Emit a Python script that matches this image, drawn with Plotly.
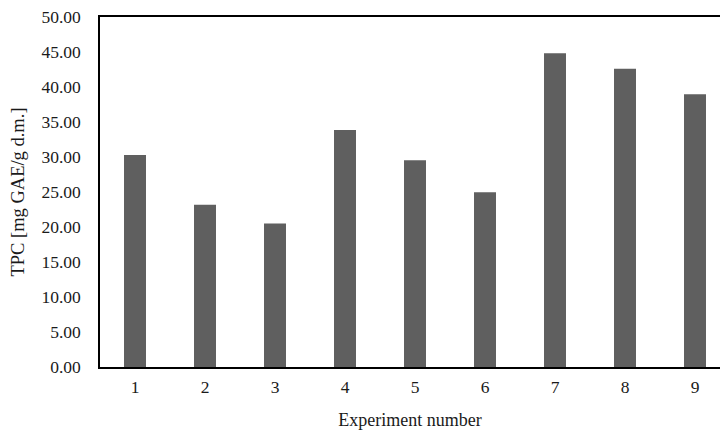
import plotly.graph_objects as go

experiments = [1, 2, 3, 4, 5, 6, 7, 8, 9]
tpc = [30.28, 23.18, 20.50, 33.86, 29.53, 24.95, 44.83, 42.59, 38.97]
y_ticks = [0, 5, 10, 15, 20, 25, 30, 35, 40, 45, 50]

font = "Liberation Serif, Times New Roman, serif"

fig = go.Figure(go.Bar(
    x=experiments, y=tpc, width=0.314,
    marker=dict(color="#5f5f5f", line=dict(width=0)),
))

fig.update_layout(
    width=720, height=430,
    margin=dict(l=100, r=0, t=17, b=63, autoexpand=False),
    paper_bgcolor="white", plot_bgcolor="white",
    font=dict(family=font, size=17.5, color="#1a1a1a"),
    showlegend=False,
    xaxis=dict(
        range=[0.5, 0.5 + 620 / 70], tickvals=experiments,
        showline=True, linecolor="black", linewidth=1.5, mirror=True,
        showgrid=False, zeroline=False,
        ticks="outside", ticklen=3, tickcolor="rgba(0,0,0,0)",
        title=dict(text="Experiment number", standoff=18, font=dict(size=18)),
    ),
    yaxis=dict(
        range=[0, 50], tickvals=y_ticks, tickformat=".2f",
        showline=True, linecolor="black", linewidth=1.5,
        showgrid=False, zeroline=False,
        ticks="outside", ticklen=14, tickcolor="rgba(0,0,0,0)",
        title=dict(text="TPC [mg GAE/g d.m.]", standoff=12, font=dict(size=18.5)),
    ),
)

fig.write_html("out.html", config={"displayModeBar": False},
               post_script="document.body.style.margin='0';")
